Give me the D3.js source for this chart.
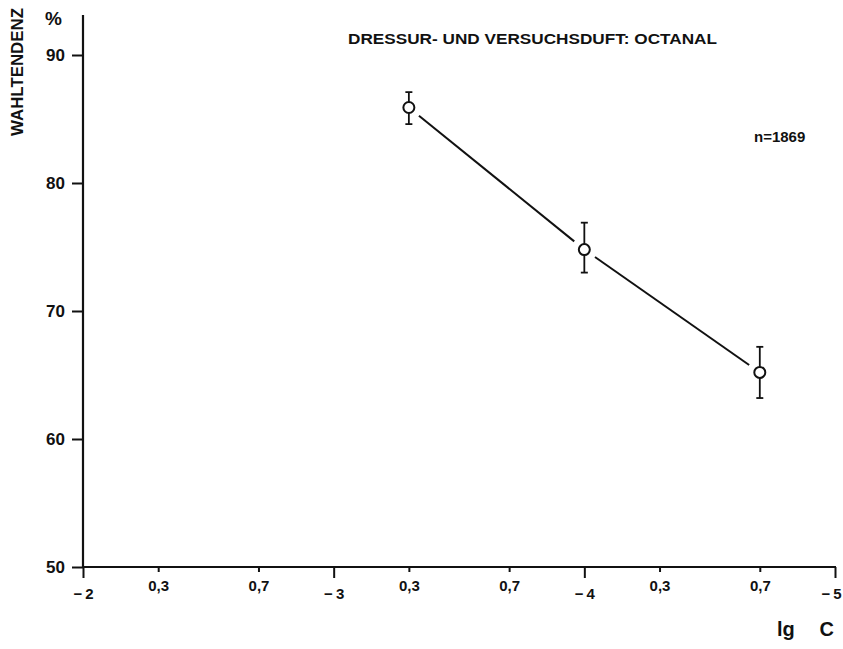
<!DOCTYPE html>
<html><head><meta charset="utf-8">
<script src="https://cdn.jsdelivr.net/npm/d3@7"></script>
<style>
body{margin:0;background:#fff;}
svg{display:block;font-family:"Liberation Sans",Arial,sans-serif;}
</style></head>
<body><svg id="c" width="843" height="649"></svg>
<script>
// data
const xTickValues = [-2, -2.3, -2.7, -3, -3.3, -3.7, -4, -4.3, -4.7, -5];
const xTickLabels = ["\u2212\u20092", "0,3", "0,7", "\u2212\u20093", "0,3", "0,7", "\u2212\u20094", "0,3", "0,7", "\u2212\u20095"];
const yTickValues = [50, 60, 70, 80, 90];
const lgC = [-3.3, -4, -4.7];
const wahl = [85.9, 74.8, 65.2];
const errHigh = [87.1, 76.9, 67.2];
const errLow = [84.6, 73.0, 63.2];

const svg = d3.select("#c");
const x = d3.scaleLinear().domain([-2, -5]).range([83, 835]);
const y = d3.scaleLinear().domain([50, 90]).range([567, 55]);
const ink = "#111";

// y axis
const ya = svg.append("g").attr("transform", "translate(83,0)")
  .call(d3.axisLeft(y).tickValues(yTickValues).tickSize(11).tickPadding(7).tickFormat(d3.format("d")));
ya.select(".domain").remove();
ya.selectAll(".tick line").attr("stroke", ink).attr("stroke-width", 2);
ya.selectAll(".tick text").attr("fill", ink).attr("font-size", 17).attr("font-weight", "bold");
svg.append("line").attr("x1", 83).attr("x2", 83).attr("y1", 15).attr("y2", y(50) + 1)
  .attr("stroke", ink).attr("stroke-width", 2.2);

// x axis
const xa = svg.append("g").attr("transform", `translate(0,${y(50)})`)
  .call(d3.axisBottom(x).tickValues(xTickValues).tickSize(6).tickPadding(6)
    .tickFormat((d, i) => xTickLabels[i]));
xa.select(".domain").remove();
svg.append("line").attr("x1", 82).attr("x2", x(-5) + 1).attr("y1", y(50)).attr("y2", y(50))
  .attr("stroke", ink).attr("stroke-width", 2);
xa.selectAll(".tick").each(function(d) {
  const major = Number.isInteger(d);
  const g = d3.select(this);
  g.select("line").attr("stroke", ink).attr("stroke-width", 2).attr("y2", major ? 11 : 5);
  const t = g.select("text").attr("fill", ink).attr("font-size", 15).attr("font-weight", "bold")
    .attr("y", major ? 21 : 13);
  if (d === -5) t.attr("text-anchor", "end").attr("x", 6);
});

// connecting line with gaps around the markers
const pts = lgC.map((c, i) => [x(c), y(wahl[i])]);
const gap = 13;
for (let i = 0; i < pts.length - 1; i++) {
  const [x1, y1] = pts[i], [x2, y2] = pts[i + 1];
  const L = Math.hypot(x2 - x1, y2 - y1);
  const ux = (x2 - x1) / L, uy = (y2 - y1) / L;
  svg.append("line")
    .attr("x1", x1 + ux * gap).attr("y1", y1 + uy * gap)
    .attr("x2", x2 - ux * gap).attr("y2", y2 - uy * gap)
    .attr("stroke", ink).attr("stroke-width", 2);
}

// error bars
const r = 5.5;
lgC.forEach((c, i) => {
  const cx = x(c), cy = y(wahl[i]);
  svg.append("line").attr("x1", cx).attr("x2", cx).attr("y1", y(errHigh[i])).attr("y2", cy - r)
    .attr("stroke", ink).attr("stroke-width", 1.8);
  svg.append("line").attr("x1", cx).attr("x2", cx).attr("y1", cy + r).attr("y2", y(errLow[i]))
    .attr("stroke", ink).attr("stroke-width", 1.8);
  [errHigh[i], errLow[i]].forEach(v => {
    svg.append("line").attr("x1", cx - 3.5).attr("x2", cx + 3.5).attr("y1", y(v)).attr("y2", y(v))
      .attr("stroke", ink).attr("stroke-width", 1.8);
  });
});

// markers
svg.selectAll("circle.pt").data(lgC).enter().append("circle")
  .attr("cx", d => x(d)).attr("cy", (d, i) => y(wahl[i])).attr("r", r)
  .attr("fill", "#fff").attr("stroke", ink).attr("stroke-width", 2);

// texts
svg.append("text").attr("x", 45).attr("y", 25).attr("font-size", 19).attr("font-weight", "bold")
  .attr("fill", ink).text("%");
svg.append("text").attr("transform", "translate(23,72) rotate(-90)").attr("text-anchor", "middle")
  .attr("font-size", 17).attr("font-weight", "bold").attr("fill", ink)
  .attr("textLength", 128).attr("lengthAdjust", "spacingAndGlyphs").text("WAHLTENDENZ");
svg.append("text").attr("x", 348).attr("y", 44).attr("font-size", 14).attr("font-weight", "bold")
  .attr("fill", ink).attr("textLength", 369).attr("lengthAdjust", "spacingAndGlyphs")
  .text("DRESSUR- UND VERSUCHSDUFT: OCTANAL");
svg.append("text").attr("x", 754).attr("y", 142).attr("font-size", 15).attr("font-weight", "bold")
  .attr("fill", ink).text("n=1869");
svg.append("text").attr("x", 777).attr("y", 636).attr("font-size", 20)
  .attr("font-weight", "bold").attr("fill", ink).text("lg");
svg.append("text").attr("x", 834).attr("y", 636).attr("text-anchor", "end").attr("font-size", 20)
  .attr("font-weight", "bold").attr("fill", ink).text("C");
</script></body></html>
